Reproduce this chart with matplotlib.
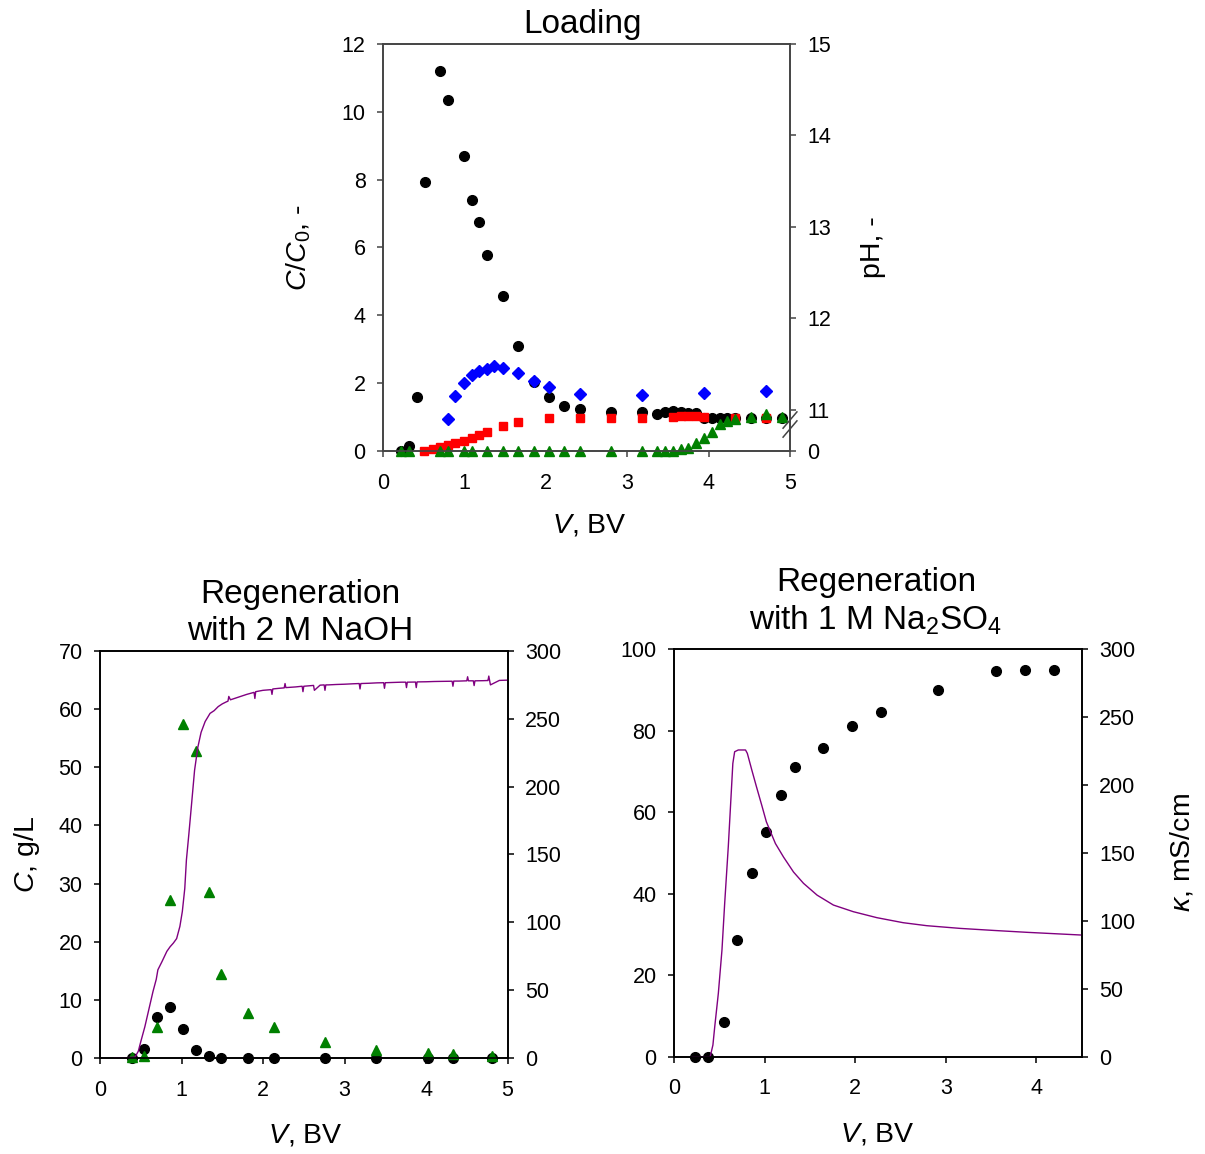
import matplotlib
matplotlib.use('Agg')
import matplotlib.pyplot as plt
from matplotlib.lines import Line2D

plt.rcParams['font.family'] = ['Liberation Sans', 'DejaVu Sans']
plt.rcParams['mathtext.fontset'] = 'custom'
plt.rcParams['mathtext.rm'] = 'Liberation Sans'
plt.rcParams['mathtext.it'] = 'Liberation Sans:italic'
plt.rcParams['mathtext.bf'] = 'Liberation Sans:bold'

# ---------------- Loading data ----------------
load_black_V = [0.22, 0.32, 0.42, 0.52, 0.70, 0.80, 0.99, 1.09, 1.18, 1.28, 1.47, 1.66, 1.85,
                2.04, 2.23, 2.42, 2.80, 3.18, 3.37, 3.47, 3.56, 3.66, 3.75, 3.85, 3.94,
                4.04, 4.14, 4.23, 4.33, 4.52, 4.71, 4.90]
load_black_C = [0.0, 0.15, 1.59, 7.93, 11.21, 10.35, 8.69, 7.40, 6.75, 5.79, 4.57, 3.09, 2.02,
                1.59, 1.32, 1.24, 1.15, 1.15, 1.10, 1.15, 1.17, 1.15, 1.12, 1.12, 0.98,
                0.98, 0.98, 0.98, 0.98, 0.98, 0.98, 0.98]

load_red_V = [0.51, 0.61, 0.70, 0.80, 0.89, 0.99, 1.09, 1.18, 1.28, 1.47, 1.66, 2.04, 2.42,
              2.80, 3.18, 3.56, 3.66, 3.75, 3.85, 3.94, 4.33, 4.71]
load_red_C = [0.0, 0.06, 0.12, 0.18, 0.23, 0.30, 0.39, 0.46, 0.56, 0.73, 0.85, 0.97, 0.98,
              0.97, 0.97, 1.01, 1.04, 1.02, 1.02, 1.00, 0.98, 0.98]

load_green_V = [0.22, 0.32, 0.70, 0.80, 0.99, 1.09, 1.28, 1.47, 1.66, 1.85, 2.04, 2.23, 2.42,
                2.80, 3.18, 3.37, 3.47, 3.56, 3.66, 3.75, 3.85, 3.94, 4.04, 4.14, 4.23,
                4.33, 4.52, 4.71, 4.90]
load_green_C = [0.0, 0.0, 0.0, 0.0, 0.0, 0.0, 0.0, 0.0, 0.0, 0.0, 0.0, 0.0, 0.0,
                0.0, 0.0, 0.0, 0.0, 0.0, 0.05, 0.10, 0.23, 0.37, 0.56, 0.79, 0.87,
                0.93, 1.01, 1.10, 1.01]

load_pH_V = [0.80, 0.89, 0.99, 1.09, 1.18, 1.28, 1.37, 1.47, 1.66, 1.85, 2.04, 2.42, 3.18, 3.94, 4.71]
load_pH = [10.90, 11.15, 11.29, 11.38, 11.42, 11.45, 11.48, 11.46, 11.40, 11.32, 11.25,
           11.17, 11.16, 11.19, 11.21]

# ---------------- Regeneration with NaOH ----------------
naoh_black_V = [0.39, 0.54, 0.70, 0.86, 1.02, 1.18, 1.34, 1.49, 1.81, 2.13, 2.76, 3.39, 4.02, 4.33, 4.81]
naoh_black_C = [0.0, 1.5, 7.0, 8.8, 4.9, 1.3, 0.4, 0.0, 0.0, 0.0, 0.0, 0.0, 0.0, 0.0, 0.0]

naoh_green_V = [0.39, 0.54, 0.70, 0.86, 1.02, 1.18, 1.34, 1.49, 1.81, 2.13, 2.76, 3.39, 4.02, 4.33, 4.81]
naoh_green_C = [0.2, 0.3, 5.3, 27.2, 57.4, 52.8, 28.5, 14.5, 7.7, 5.4, 2.7, 1.3, 0.9, 0.6, 0.3]

naoh_kappa_V = [0.18, 0.30, 0.43, 0.47, 0.50, 0.55, 0.60, 0.65, 0.69, 0.71, 0.76, 0.82, 0.86,
                0.90, 0.94, 0.98, 1.01, 1.04, 1.06, 1.09, 1.12, 1.16, 1.20, 1.24, 1.29,
                1.35, 1.40, 1.45, 1.50, 1.55, 1.57, 1.58, 1.60, 1.70, 1.80, 1.89, 1.90,
                1.91, 2.00, 2.10, 2.11, 2.12, 2.20, 2.26, 2.27, 2.28, 2.40, 2.48, 2.49,
                2.50, 2.60, 2.62, 2.63, 2.70, 2.75, 2.76, 2.77, 2.80, 2.90, 3.00, 3.10,
                3.18, 3.19, 3.20, 3.30, 3.40, 3.48, 3.49, 3.50, 3.60, 3.70, 3.75, 3.76,
                3.77, 3.87, 3.88, 3.89, 4.00, 4.10, 4.20, 4.32, 4.33, 4.34, 4.40, 4.50,
                4.51, 4.52, 4.58, 4.59, 4.60, 4.70, 4.75, 4.76, 4.77, 4.78, 4.79, 4.90,
                5.00]
naoh_kappa = [0.0, 0.0, 0.7, 5, 12, 23, 36, 49, 58, 65, 71, 78.6, 82,
              84.7, 88, 97, 108, 125, 146, 165, 185, 212, 229, 240, 248,
              254, 256, 259, 261, 262.5, 263, 266.5, 264, 266, 268, 269.5, 265,
              270, 271, 271.5, 268, 272, 272.5, 272.8, 276, 273, 273.5, 274, 270,
              274, 274.5, 274.6, 271, 274.8, 275, 271, 275, 275, 275.3, 275.5, 275.8,
              276, 272, 276, 276.2, 276.5, 276.6, 272.5, 276.6, 276.8, 277, 277, 273,
              277, 277.1, 273, 277.2, 277.3, 277.5, 277.6, 277.7, 274, 277.8, 277.8, 278,
              281, 278, 278, 274.5, 278, 278.1, 278.2, 278.2, 281.5, 278.2, 275, 278.3,
              278.5]

# ---------------- Regeneration with Na2SO4 ----------------
sulf_black_V = [0.23, 0.38, 0.55, 0.70, 0.86, 1.02, 1.18, 1.34, 1.65, 1.97, 2.29, 2.92, 3.56, 3.88, 4.19]
sulf_black_C = [0.0, 0.0, 8.4, 28.6, 45.2, 55.1, 64.2, 71.1, 75.9, 81.2, 84.7, 89.9, 94.6, 95.0, 95.0]

sulf_kappa_V = [0.20, 0.40, 0.43, 0.45, 0.49, 0.53, 0.56, 0.60, 0.63, 0.65, 0.67, 0.71, 0.79,
                0.81, 0.86, 0.91, 0.97, 1.02, 1.12, 1.21, 1.32, 1.43, 1.58, 1.76, 1.98,
                2.24, 2.53, 2.79, 3.16, 3.53, 3.90, 4.50]
sulf_kappa = [0.0, 0.0, 8.6, 22, 46.7, 78.6, 113, 155, 191.5, 216, 224.6, 225.9, 225.9,
              223.4, 211, 199, 185, 173, 157, 147, 136, 127.7, 119, 111.7, 106.8,
              102.4, 98.7, 96.5, 94.5, 93.0, 91.6, 89.6]

# ---------------- styling helpers ----------------
TICK_FS = 15.5
LABEL_FS = 20.5
TITLE_FS = 24
BLACK = 'black'
RED = '#ff0000'
GREEN = '#008000'
BLUE = '#0000ff'
PURPLE = '#800080'


def style(ax, color='black'):
    for s in ax.spines.values():
        s.set_color(color)
        s.set_linewidth(1.2)
    ax.tick_params(direction='out', length=4.5, width=1.1, labelsize=TICK_FS, colors=color,
                   labelcolor='black')
    ax.tick_params(axis='x', pad=11)
    ax.tick_params(axis='y', pad=8)


fig = plt.figure(figsize=(12.05, 11.54), dpi=100)

# ---------------- top panel ----------------
ax1 = fig.add_axes([0.3178, 0.6092, 0.3378, 0.3527])
ax1.plot(load_black_V, load_black_C, 'o', color=BLACK, ms=7, zorder=3, clip_on=False)
ax1.plot(load_red_V, load_red_C, 's', color=RED, ms=6, zorder=4, clip_on=False)
ax1.plot(load_green_V, load_green_C, '^', color=GREEN, ms=6.5, zorder=5, clip_on=False)
ax1.set_xlim(0, 5)
ax1.set_ylim(0, 12)
ax1.set_xticks([0, 1, 2, 3, 4, 5])
ax1.set_yticks([0, 2, 4, 6, 8, 10, 12])
style(ax1, '#444444')
ax1.set_ylabel(r'$C$/$C_0$, -', fontsize=LABEL_FS)
ax1.yaxis.set_label_coords(-0.172, 0.5)
ax1.set_xlabel(r'$V$, BV', fontsize=LABEL_FS)
ax1.xaxis.set_label_coords(0.508, -0.152)

ax1b = ax1.twinx()
ph_bottom = 10.551
ax1b.set_ylim(ph_bottom, 15)
ax1b.plot(load_pH_V, load_pH, 'D', color=BLUE, ms=6, zorder=6, clip_on=False)
ax1b.set_yticks([ph_bottom, 11, 12, 13, 14, 15])
ax1b.set_yticklabels(['0', '11', '12', '13', '14', '15'])
style(ax1b, '#444444')
ax1b.set_ylabel('pH, -', fontsize=LABEL_FS)
ax1b.yaxis.set_label_coords(1.172, 0.5)
# axis break marks
for dy in (-0.011, 0.011):
    ax1b.add_line(Line2D([0.983, 1.017], [0.045 + dy, 0.085 + dy], transform=ax1b.transAxes,
                         color='#444444', lw=1.1, clip_on=False, zorder=10))
fig.text(583 / 1205, 1 - 25 / 1154, 'Loading', fontsize=TITLE_FS, ha='center', va='center')

# ---------------- bottom left panel ----------------
ax2 = fig.add_axes([0.0830, 0.0832, 0.3382, 0.3527])
ax2.plot(naoh_black_V, naoh_black_C, 'o', color=BLACK, ms=7, zorder=3, clip_on=False)
ax2.plot(naoh_green_V, naoh_green_C, '^', color=GREEN, ms=6.5, zorder=4, clip_on=False)
ax2.set_xlim(0, 5)
ax2.set_ylim(0, 70)
ax2.set_xticks([0, 1, 2, 3, 4, 5])
ax2.set_yticks(range(0, 71, 10))
style(ax2)
ax2.set_ylabel(r'$C$, g/L', fontsize=LABEL_FS)
ax2.yaxis.set_label_coords(-0.142, 0.5)
ax2.set_xlabel(r'$V$, BV', fontsize=LABEL_FS)
ax2.xaxis.set_label_coords(0.503, -0.158)
ax2b = ax2.twinx()
ax2b.plot(naoh_kappa_V, naoh_kappa, '-', color=PURPLE, lw=1.0)
ax2b.set_ylim(0, 300)
ax2b.set_yticks(range(0, 301, 50))
style(ax2b)
fig.text(300 / 1205, 1 - 595 / 1154, 'Regeneration', fontsize=TITLE_FS, ha='center', va='center')
fig.text(300 / 1205, 1 - 632 / 1154, 'with 2 M NaOH', fontsize=TITLE_FS, ha='center', va='center')

# ---------------- bottom right panel ----------------
ax3 = fig.add_axes([0.5593, 0.0843, 0.3383, 0.3530])
ax3.plot(sulf_black_V, sulf_black_C, 'o', color=BLACK, ms=7, zorder=3, clip_on=False)
ax3.set_xlim(0, 4.5)
ax3.set_ylim(0, 100)
ax3.set_xticks([0, 1, 2, 3, 4])
ax3.set_yticks(range(0, 101, 20))
style(ax3)
ax3.set_xlabel(r'$V$, BV', fontsize=LABEL_FS)
ax3.xaxis.set_label_coords(0.5, -0.158)
ax3b = ax3.twinx()
ax3b.plot(sulf_kappa_V, sulf_kappa, '-', color=PURPLE, lw=1.0)
ax3b.set_ylim(0, 300)
ax3b.set_yticks(range(0, 301, 50))
style(ax3b)
ax3b.set_ylabel(r'$\kappa$, mS/cm', fontsize=LABEL_FS)
ax3b.yaxis.set_label_coords(1.212, 0.5)
fig.text(876 / 1205, 1 - 583 / 1154, 'Regeneration', fontsize=TITLE_FS, ha='center', va='center')
fig.text(876 / 1205, 1 - 620 / 1154, r'with 1 M Na$_2$SO$_4$', fontsize=TITLE_FS, ha='center',
         va='center')

fig.savefig('out.png', dpi=100)
